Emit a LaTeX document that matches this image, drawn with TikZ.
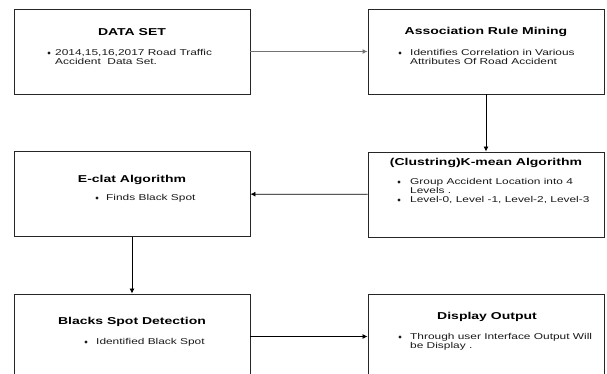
\documentclass[tikz,border=0pt]{standalone}
\usepackage{fontspec}
\setmainfont[FakeStretch=1.4]{Liberation Sans}
\usetikzlibrary{arrows.meta}

\tikzset{
  stage/.style={draw=black!85,line width=0.9pt,minimum width=236pt,minimum height=85pt,inner sep=0pt},
  heading/.style={font=\bfseries\fontsize{10}{12}\selectfont},
  point/.style={font=\fontsize{8.5}{9}\selectfont,align=left,anchor=north west,inner sep=0pt,text=black!90},
  dot/.style={circle,fill=black!90,inner sep=0pt,minimum size=3.2pt},
  flow/.style={-{Latex[length=5pt,width=5pt]},line width=0.8pt},
}

\begin{document}
\begin{tikzpicture}[x=1pt,y=-1pt]
\clip (0,0) rectangle (607,374);

% Boxes
\node[stage] (data) at (132,51.5) {};
\node[stage] (assoc) at (486,51.5) {};
\node[stage] (kmean) at (486,194.5) {};
\node[stage] (eclat) at (132,194) {};
\node[stage] (spot) at (132,336.5) {};
\node[stage] (disp) at (486,336.5) {};

% Headings
\node[heading] (dataT) at (132,32) {DATA SET};
\node[heading] (assocT) at (486,32) {Association Rule Mining};
\node[heading] (kmeanT) at (486,163) {(Clustring)K-mean Algorithm};
\node[heading] (eclatT) at (132,180) {E-clat Algorithm};
\node[heading] (spotT) at (132,322) {Blacks Spot Detection};
\node[heading] (dispT) at (487,317) {Display Output};

% Bullet points
\node[dot] (dataB) at (49,53) {};
\node[point] (dataP) at (55,49) {2014,15,16,2017 Road Traffic\\Accident\ \ Data Set.};
\node[dot] (assocB) at (400,53) {};
\node[point] (assocP) at (410,49) {Identifies Correlation in Various\\Attributes Of Road Accident};
\node[dot] (kmeanB1) at (399,182) {};
\node[point] (kmeanP1) at (410,178) {Group Accident Location into 4\\Levels .};
\node[dot] (kmeanB2) at (399,200) {};
\node[point] (kmeanP2) at (410,196) {Level-0, Level -1, Level-2, Level-3};
\node[dot] (eclatB) at (97,198) {};
\node[point] (eclatP) at (106,194) {Finds Black Spot};
\node[dot] (spotB) at (86,342) {};
\node[point] (spotP) at (96,338) {Identified Black Spot};
\node[dot] (dispB) at (400,337) {};
\node[point] (dispP) at (410,333) {Through user Interface Output Will\\be Display .};

% Connectors
\draw[flow,draw=black!55,line width=1.5pt] (data) -- (assoc);
\draw[flow] (assoc) -- (kmean);
\draw[flow] (kmean) -- (eclat);
\draw[flow] (eclat) -- (spot);
\draw[flow] (spot) -- (disp);
\end{tikzpicture}
\end{document}
